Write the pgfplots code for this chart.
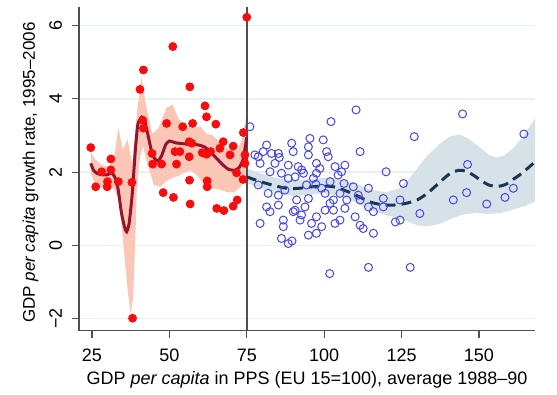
\documentclass[border=0pt]{standalone}
\usepackage{fontspec}
\setmainfont{Liberation Sans}
\usepackage{graphicx}
\usepackage{pgfplots}
\pgfplotsset{compat=1.18}
\usepgfplotslibrary{fillbetween}
\definecolor{redpt}{RGB}{250,12,12}
\definecolor{redline}{RGB}{150,20,50}
\definecolor{redband}{RGB}{250,198,182}
\definecolor{bluept}{RGB}{70,70,230}
\definecolor{blueline}{RGB}{25,55,85}
\definecolor{blueband}{RGB}{214,226,232}
\definecolor{gridc}{RGB}{232,242,242}
\definecolor{axc}{RGB}{80,80,80}
\begin{document}
\begin{tikzpicture}[font=\fontsize{9}{11}\selectfont]
\begin{axis}[
  at={(0,0)}, anchor=south west,
  scale only axis, width=228pt, height=161.85pt,
  xmin=20.8, xmax=168.1, ymin=-2.33, ymax=6.51,
  axis lines=left, axis line style={-, draw=axc, line width=0.6pt},
  xtick={25,50,75,100,125,150},
  ytick={-2,0,2,4,6},
  yticklabels={\rotatebox{90}{−2},\rotatebox{90}{0},\rotatebox{90}{2},\rotatebox{90}{4},\rotatebox{90}{6}},
  /pgf/number format/assume math mode=true,
  tick align=outside, major tick length=3.5pt,
  tick style={draw=axc, line width=0.6pt},
  xticklabel style={anchor=base, yshift=-12.1pt},
  yticklabel style={anchor=east, xshift=-1.5pt},
  ymajorgrids, major grid style={draw=gridc, line width=0.7pt},
  xlabel={GDP \textit{per capita} in PPS (EU 15=100), average 1988–90},
  ylabel={\fontsize{8.5}{10}\selectfont GDP \textit{per capita} growth rate, 1995–2006},
  every axis x label/.style={at={(axis description cs:0.5,0)}, yshift=-26.8pt, anchor=base},
  every axis y label/.style={at={(axis description cs:0,0.488)}, xshift=-22pt, rotate=90, anchor=base},
]
% red band
\addplot[draw=none, name path=ru, forget plot] coordinates {
(24.6,2.55)(26,2.35)(28,2.2)(30,2.15)(32,2.3)(33.5,3.2)(35,2.6)(36.5,2.9)(38,2.2)(39.5,3.6)(41,4.6)(42.5,3.8)(44.5,3.05)(46.5,3.2)(49,3.75)(51,3.85)(53,3.45)(55.5,3.25)(58,3.2)(60,3.25)(62,3.05)(64,3.0)(66,2.85)(68,2.7)(70,2.6)(72,2.6)(73.5,2.9)(75,3.6)};
\addplot[draw=none, name path=rl, forget plot] coordinates {
(24.6,1.95)(26,1.7)(28,1.6)(30,1.6)(32,1.55)(33.5,1.3)(34.5,0.6)(35.5,-0.3)(36.5,-1.2)(37.5,-1.9)(38.3,-1.4)(39,0.2)(39.5,1.6)(40.5,2.4)(41.5,2.7)(43,2.2)(45,1.65)(47,1.6)(49,1.75)(51,1.85)(53,1.9)(55,2.0)(57,2.05)(59,1.9)(61,1.7)(63,1.55)(65,1.55)(67,1.5)(69,1.45)(71,1.45)(73,1.6)(75,1.9)};
\addplot[fill=redband, draw=none, forget plot] fill between[of=ru and rl];
% blue band
\addplot[draw=none, name path=bu, forget plot] coordinates {
(75,2.10)(80,1.95)(85,1.83)(90,1.78)(95,1.8)(100,1.84)(105,1.8)(110,1.7)(115,1.52)(120,1.45)(124,1.55)(127,1.78)(130,2.1)(133,2.42)(137,2.75)(140.5,2.97)(143.5,3.03)(146.5,2.92)(150,2.70)(153,2.48)(155.5,2.40)(158,2.45)(161,2.65)(164,2.95)(168.1,3.47)};
\addplot[draw=none, name path=bl, forget plot] coordinates {
(75,1.70)(80,1.55)(85,1.43)(90,1.35)(95,1.38)(100,1.42)(105,1.36)(110,1.18)(115,0.95)(120,0.82)(124,0.75)(127,0.65)(130,0.55)(133,0.52)(137,0.58)(141,0.72)(145,0.85)(149,0.88)(153,0.86)(157,0.88)(161,0.98)(165,1.08)(168.1,1.2)};
\addplot[fill=blueband, draw=none, forget plot] fill between[of=bu and bl];
% vertical line
\addplot[draw=axc, line width=0.75pt, forget plot] coordinates {(75,-2.33)(75,6.51)};
% red points
\addplot[only marks, mark=*, mark size=2pt, mark options={fill=redpt, draw=redpt}] coordinates {
(24.6,2.67)(26.2,1.60)(28.1,2.01)(29.9,1.60)(30.0,1.74)(31.1,2.36)(31.1,2.06)(33.5,1.74)(37.9,1.72)
(40.5,4.26)(41.6,4.79)(41.4,3.42)(41.6,3.20)(44.4,2.51)(44.6,2.22)(47.5,2.22)(49.1,3.33)(51.1,5.43)
(51.8,2.56)(53.4,2.56)(52.3,2.22)(54.3,3.24)(56.6,4.33)(57.5,3.33)(56.4,2.83)(57.2,2.79)(56.4,2.42)
(56.5,1.78)(61.5,3.81)(62.0,3.51)(65.0,3.31)(60.6,2.53)(62.0,2.49)(63.3,2.56)(62.2,1.76)(62.2,1.60)
(66.3,2.65)(67.4,2.83)(69.6,2.47)(70.6,2.71)(71.7,1.98)(73.9,3.08)(74.4,2.47)(74.4,2.24)(75.0,6.23)
(73.8,1.80)(38.1,-1.99)(48.0,1.44)(51.3,1.31)(56.7,1.13)(65.3,1.01)(67.6,0.95)(70.6,1.07)(71.9,1.24)};
% blue points
\addplot[only marks, mark=o, mark size=2pt, mark options={draw=bluept, line width=0.5pt}] coordinates {
(81.4,2.74)(80.3,2.56)(78.7,2.42)(83.0,2.51)(85.2,2.51)(89.5,2.79)(90,2.56)(95.4,2.92)(94.9,2.69)
(94.9,2.47)(99.7,2.88)(100.8,2.56)(101.3,2.42)(111.6,2.56)(79.3,2.24)(84.1,2.24)(82.5,2.01)(86.2,1.97)
(88.4,2.19)(91.6,2.15)(93.3,1.97)(97.5,2.24)(98.6,2.10)(97.5,1.97)(103.5,2.15)(106.7,2.19)(105.6,2.01)
(96.5,1.83)(88.4,1.83)(90.6,1.87)(78.7,1.65)(81.9,1.42)(85.2,1.37)(87.3,1.51)(91.1,1.24)(94.9,1.28)
(100.3,1.42)(103.0,1.24)(105.1,1.42)(107.3,1.24)(111.6,1.24)(114.3,1.56)(81.4,1.05)(85.2,1.10)(90.6,0.96)
(93.8,1.05)(100.3,0.96)(103.0,0.96)(106.7,1.01)(110,0.78)(79.3,0.60)(86.8,0.69)(92.2,0.69)(95.9,0.60)
(99.2,0.51)(103.5,0.60)(111.6,0.55)(112.6,0.46)(86.2,0.19)(88.4,0.05)(89.6,0.12)(94.9,0.28)(97.5,0.33)
(115.9,0.33)
(104.5,1.92)(101.9,1.74)(106.4,1.69)(109.4,1.60)(99.2,1.56)(94.3,1.65)(97.3,1.67)(111.0,1.37)(105.1,0.69)
(92.7,0.83)(90,0.92)(82.5,0.92)(97.5,0.78)(86.8,0.51)(77.6,2.47)(85.5,2.40)(92.7,2.06)(101.9,1.15)(114.3,1.05)
(76.0,3.24)(110.3,3.70)(102.2,3.38)(144.7,3.59)(164.5,3.04)(129.1,2.97)(120.0,2.01)(125.6,1.69)(146.3,2.21)
(146.0,1.44)(161.1,1.56)(115.9,0.92)(119.1,1.28)(119.1,1.05)(123.0,0.64)(124.5,0.69)(124.5,1.24)(130.9,0.87)
(141.7,1.24)(152.5,1.13)(158.4,1.31)(101.8,-0.77)(114.3,-0.60)(127.8,-0.60)};
% red smooth line
\addplot[draw=redline, line width=1.5pt, smooth, tension=0.3] coordinates {
(24.6,2.24)(25.5,2.05)(26.5,1.97)(28,1.93)(30,1.93)(31.5,1.98)(32.7,1.80)(33.5,1.5)(34.5,0.9)(35.5,0.5)
(36.2,0.37)(37,0.6)(38,1.4)(39,2.6)(39.8,3.3)(41,3.5)(42,3.4)(43,3.05)(44,2.65)(45,2.4)(46.3,2.3)(47.5,2.45)
(48.8,2.75)(50,2.85)(52,2.8)(54,2.78)(56,2.76)(58,2.76)(60,2.73)(61.5,2.68)(63,2.57)(65,2.4)(67,2.22)
(69,2.08)(71,2.05)(72.5,2.12)(73.8,2.35)(75,2.95)};
% blue dashed line
\addplot[draw=blueline, line width=1.5pt, dash pattern=on 5pt off 3pt, smooth] coordinates {
(75,1.87)(78,1.78)(81,1.70)(84,1.63)(87,1.57)(89,1.55)(92,1.56)(96,1.6)(100,1.62)(103,1.6)(106,1.52)
(109,1.42)(112,1.3)(115,1.18)(118,1.12)(121,1.10)(124,1.11)(127,1.16)(130,1.24)(133,1.40)(136,1.62)
(139,1.85)(141,1.98)(143.5,2.05)(146,2.02)(148.5,1.90)(151,1.75)(153.5,1.64)(156,1.61)(158.5,1.66)
(161,1.80)(164,1.98)(168.1,2.28)};
\end{axis}
\path (-39.5pt,-28.65pt) rectangle (239pt,165.35pt);
\end{tikzpicture}
\end{document}
